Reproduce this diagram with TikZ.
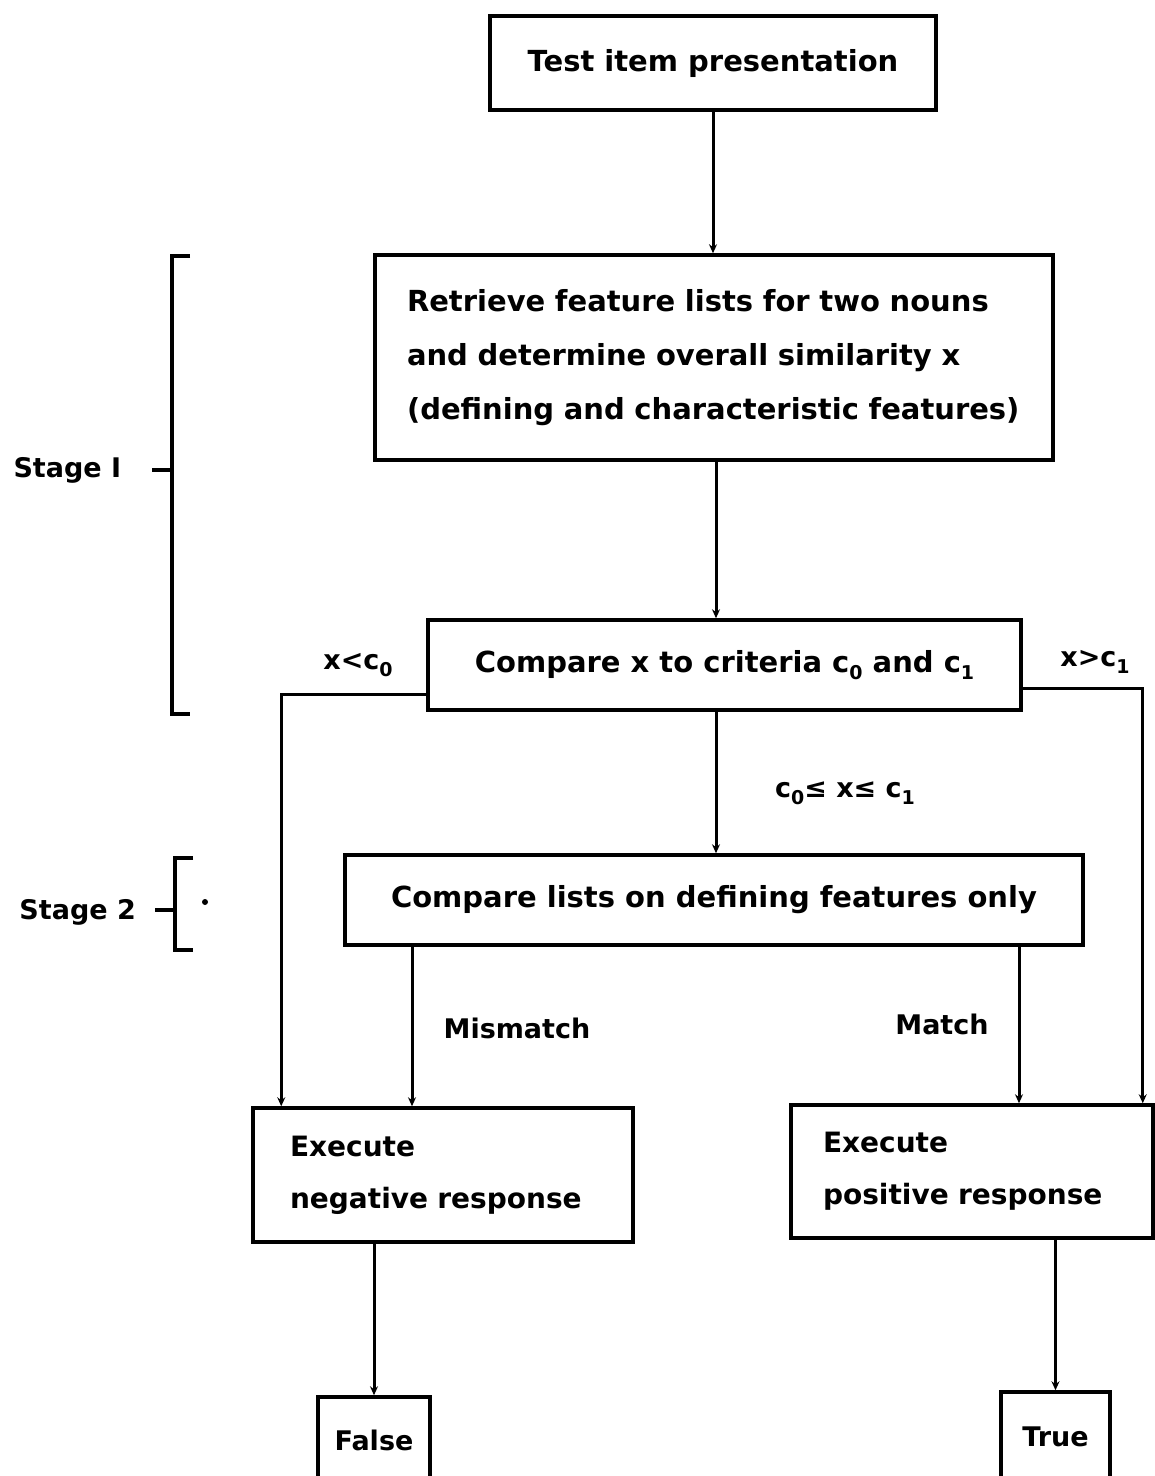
\documentclass[tikz,border=0pt]{standalone}
\usepackage{fontspec}
\setmainfont{DejaVu Sans}
\usetikzlibrary{arrows.meta}
\newcommand\lowsub[1]{\raisebox{-0.45ex}{\fontsize{19}{19}\selectfont #1}}
\begin{document}
\begin{tikzpicture}[x=1pt,y=-1pt, line width=3pt,
  box/.style={draw, line width=3.5pt, inner sep=0pt, font=\bfseries\fontsize{29}{54}\selectfont},
  lbl/.style={font=\bfseries\fontsize{27}{30}\selectfont, inner sep=0pt},
  arr/.style={-{Stealth[length=9pt,width=8pt]}},
  brk/.style={line width=4pt}]
\clip (0,0) rectangle (1155,1476);
\fill[white] (0,0) rectangle (1155,1476);
% boxes
\node[box, minimum width=446pt, minimum height=94pt] (top) at (713,63) {\raisebox{-4pt}{Test item presentation}};
\node[box, text width=622pt, inner xsep=28pt, minimum height=205pt, align=left] (retr) at (714,357.5)
  {\hspace*{4pt}Retrieve feature lists for two nouns\\ \hspace*{4pt}and determine overall similarity x\\ \hspace*{4pt}(defining and characteristic features)};
\node[box, minimum width=593pt, minimum height=90pt] (cmp) at (724.5,665) {Compare x to criteria c\lowsub{0} and c\lowsub{1}};
\node[box, minimum width=738pt, minimum height=90pt] (s2) at (714,900) {Compare lists on defining features only};
\node[box, text width=306pt, inner xsep=37pt, minimum height=134pt, align=left, font=\bfseries\fontsize{28}{52}\selectfont] (neg) at (443,1175)
  {Execute\\ negative response};
\node[box, text width=298pt, inner xsep=32pt, minimum height=133pt, align=left, font=\bfseries\fontsize{28}{52}\selectfont] (pos) at (972,1171.5)
  {Execute\\ positive response};
\node[box, minimum width=112pt, minimum height=86pt, font=\bfseries\fontsize{27}{30}\selectfont] (false) at (374,1440) {False};
\node[box, minimum width=109pt, minimum height=90pt, font=\bfseries\fontsize{27}{30}\selectfont] (true) at (1055.5,1437) {True};
% connectors
\coordinate (mx) at (716,0);
\coordinate (lx) at (412,0);
\coordinate (rx) at (1019,0);
\draw[arr] (top.south) -- (top.south |- retr.north);
\draw[arr] (mx |- retr.south) -- (mx |- cmp.north);
\draw[arr] (mx |- cmp.south) -- (mx |- s2.north);
\draw[arr] ([yshift=-29pt]cmp.west) -| ([xshift=30pt]neg.north west);
\draw[arr] ([yshift=-23pt]cmp.east) -| ([xshift=-12pt]pos.north east);
\draw[arr] (lx |- s2.south) -- (lx |- neg.north);
\draw[arr] (rx |- s2.south) -- (rx |- pos.north);
\draw[arr] (false.north |- neg.south) -- (false.north);
\draw[arr] (true.north |- pos.south) -- (true.north);
% labels
\node[lbl] (l1) at (358,665) {x<c\lowsub{0}};
\node[lbl] (l2) at (1095,662) {x>c\lowsub{1}};
\node[lbl] (l3) at (845,793) {c\lowsub{0}≤ x≤ c\lowsub{1}};
\node[lbl] (l4) at (517,1028) {Mismatch};
\node[lbl] (l5) at (942,1024) {Match};
% stages
\node[lbl, anchor=west] (st1) at (12,470) {Stage I};
\draw[brk] (190,256) -- (172,256) -- (172,714) -- (190,714);
\draw[brk] (152,470) -- (172,470);
\node[lbl, anchor=west] (st2) at (18,912) {Stage 2};
\draw[brk] (193,858) -- (175,858) -- (175,950) -- (193,950);
\draw[brk] (155,910) -- (175,910);
\fill (205,902) circle (3pt);
\end{tikzpicture}
\end{document}
